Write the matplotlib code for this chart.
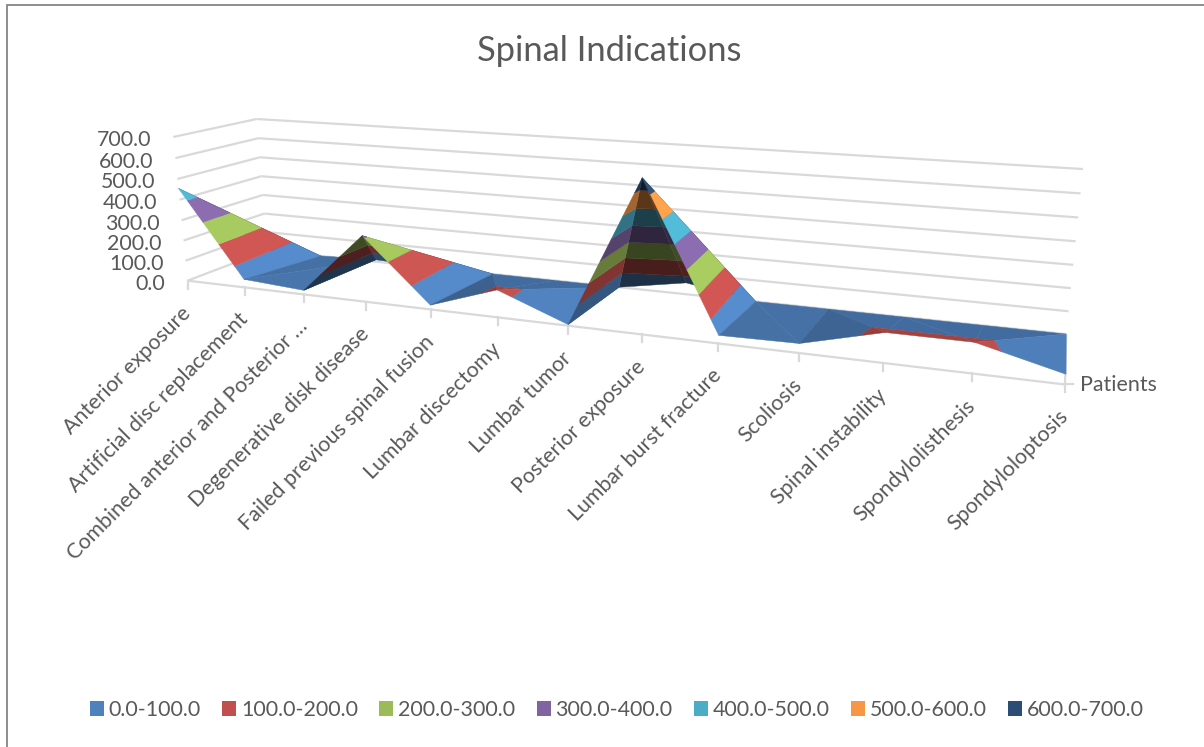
import numpy as np
import matplotlib
matplotlib.use("Agg")
import matplotlib.pyplot as plt
from matplotlib.patches import Polygon, Patch
from matplotlib.colors import to_rgb

plt.rcParams['font.family'] = ['Lato', 'DejaVu Sans']

categories = ["Anterior exposure", "Artificial disc replacement", "Combined anterior and Posterior …",
              "Degenerative disk disease", "Failed previous spinal fusion", "Lumbar discectomy",
              "Lumbar tumor", "Posterior exposure", "Lumbar burst fracture", "Scoliosis",
              "Spinal instability", "Spondylolisthesis", "Spondyloloptosis"]
patients = [455, 40, 20, 310, 20, 125, 5, 665, 35, 40, 125, 125, 40]
back_edge = [0, 0, 10, 0, 0, 0, 0, 55, 0, 0, 0, 0, 0]
value_ticks = [0, 100, 200, 300, 400, 500, 600, 700]
bands = ["0.0-100.0", "100.0-200.0", "200.0-300.0", "300.0-400.0", "400.0-500.0", "500.0-600.0", "600.0-700.0"]
band_colors = ["#4f81bd", "#c0504d", "#9bbb59", "#8064a2", "#4bacc6", "#f79646", "#2c4d75"]
TEXT = "#595959"
GRID = "#d9d9d9"

# camera calibration: (category, depth, value) -> pixel
calib = [((0, 0, 0), (188, 280)), ((0, 0, 700), (173, 137)), ((0, 1, 0), (267, 251)), ((0, 1, 700), (257, 119)),
         ((12, 1, 0), (1066, 334)), ((12, 1, 700), (1083, 169)), ((12, 0, 0), (1065, 385)),
         ((6, 0, 0), (568, 326)), ((6, 1, 0), (620, 287)), ((4, 1, 0), (492, 274)), ((8, 1, 0), (756, 301))]
A, B = [], []
for (c, d, z), (u, v) in calib:
    A.append([c, d, z, 1, 0, 0, 0, 0, -u*c, -u*d, -u*z]); B.append(u)
    A.append([0, 0, 0, 0, c, d, z, 1, -v*c, -v*d, -v*z]); B.append(v)
P = np.append(np.linalg.lstsq(np.array(A, float), np.array(B, float), rcond=None)[0], 1).reshape(3, 4)

def project(c, d, z):
    h = P @ np.array([c, d, z, 1.0])
    return h[0]/h[2], h[1]/h[2]

fig = plt.figure(figsize=(12.04, 7.47), dpi=100)
ax = fig.add_axes([0, 0, 1, 1])
ax.set_xlim(0, 1204); ax.set_ylim(747, 0); ax.axis('off')

def seg(a, b, **kw):
    pa, pb = project(*a), project(*b)
    ax.plot([pa[0], pb[0]], [pa[1], pb[1]], solid_capstyle='butt', **kw)

n = len(categories) - 1
gk = dict(color=GRID, lw=1.6, zorder=1)
for z in value_ticks:
    seg((0, 1, z), (n, 1, z), **gk)
    seg((0, 0, z), (0, 1, z), **gk)
seg((0, 0, 0), (n, 0, 0), **gk)
seg((n, 0, 0), (n, 1, 0), **gk)
for c in range(n + 1):
    x, y = project(c, 0, 0)
    ax.plot([x, x], [y, y + 8], **gk)
x, y = project(n, 0, 0)
ax.plot([x - 3, x + 8], [y, y], **gk)

def clip(poly, lo, hi):
    def cut(pts, f):
        out = []
        for i in range(len(pts)):
            p, q = pts[i], pts[(i + 1) % len(pts)]
            fp, fq = f(p), f(q)
            if fp >= 0:
                out.append(p)
            if fp * fq < 0:
                t = fp / (fp - fq)
                out.append(tuple(p[k] + t * (q[k] - p[k]) for k in range(3)))
        return out
    pts = cut(list(poly), lambda p: p[2] - lo)
    if pts:
        pts = cut(pts, lambda p: hi - p[2])
    return pts

def shade(tri):
    a, b, c = [np.array(p, float) for p in tri]
    scale = np.array([150.0, 150.0, 1.0])
    nrm = np.cross((b - a) * scale, (c - a) * scale)
    nrm = nrm / np.linalg.norm(nrm)
    if nrm[2] < 0:
        nrm = -nrm
    return 0.88 + 0.22 * nrm[0] - 0.6 * nrm[1] ** 6

dark_front = {2: 0.40}

def draw_tri(tri, f):
    for k, col in enumerate(band_colors):
        pts = clip(tri, k * 100, (k + 1) * 100)
        if len(pts) < 3:
            continue
        rgb = np.clip(np.array(to_rgb(col)) * f, 0, 1)
        ax.add_patch(Polygon([project(*p) for p in pts], closed=True, facecolor=rgb, edgecolor=rgb, lw=0.3, zorder=3))

for i in range(n):
    F0, F1 = (i, 0, patients[i]), (i + 1, 0, patients[i + 1])
    B0, B1 = (i, 1, back_edge[i]), (i + 1, 1, back_edge[i + 1])
    if patients[i + 1] >= patients[i]:
        back, front = (F1, B0, B1), (F0, F1, B0)
    else:
        back, front = (F0, B0, B1), (F0, F1, B1)
    draw_tri(back, shade(back))
    draw_tri(front, dark_front.get(i, shade(front)))

FS = 15.4
for z in value_ticks:
    x, y = project(0, 0, z)
    ax.text(x - 22, y + 3.5, f"{z:.1f}", ha='right', va='center', fontsize=FS, color=TEXT)
for c, name in enumerate(categories):
    x, y = project(c, 0, 0)
    ax.text(x - 7, y + 22, name, ha='right', va='top', rotation=45, rotation_mode='anchor', fontsize=FS, color=TEXT)
x, y = project(n, 0, 0)
ax.text(x + 15, y + 1, "Patients", ha='left', va='center', fontsize=FS, color=TEXT)
ax.text(609, 51, "Spinal Indications", ha='center', va='center', fontsize=24.8, color=TEXT)

handles = [Patch(facecolor=c, label=b) for b, c in zip(bands, band_colors)]
ax.legend(handles=handles, ncol=7, frameon=False, loc='center', bbox_to_anchor=(617, 710), bbox_transform=ax.transData,
          fontsize=FS, labelcolor=TEXT, handlelength=0.65, handleheight=0.65, handletextpad=0.23, columnspacing=1.0)

ax.plot([7, 7, 1204], [747, 5, 5], color="#868686", lw=1.3, solid_joinstyle='miter')
fig.savefig("out.png", dpi=100)
